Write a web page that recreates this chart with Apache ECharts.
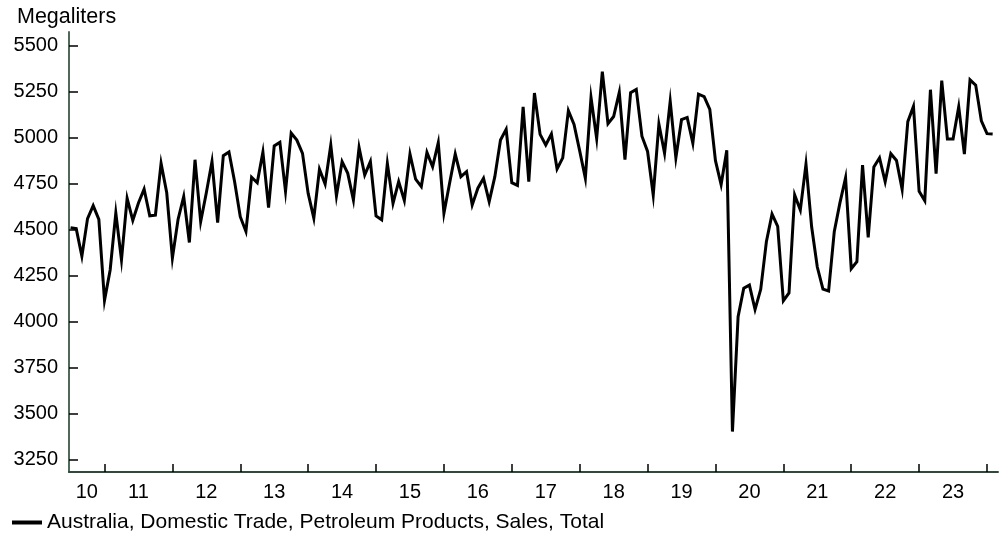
<!DOCTYPE html>
<html><head><meta charset="utf-8">
<script src="https://cdn.jsdelivr.net/npm/echarts@6/dist/echarts.min.js"></script>
<style>html,body{margin:0;padding:0;background:#fff}#c{width:1002px;height:533px}</style>
</head><body><div id="c"></div>
<script>
// Monthly series, first value = July 2010
const startYear = 2010;
const startMonth = 7;
const salesValues = [
  4510,4505,4355,4560,4630,4555,
  4115,4280,4590,4335,4670,4550,4645,4720,4575,4578,4860,4700,
  4345,4555,4680,4430,4880,4543,4700,4870,4538,4902,4922,4760,
  4570,4490,4785,4755,4922,4620,4955,4975,4708,5025,4987,4915,
  4697,4562,4828,4748,4960,4683,4870,4806,4661,4947,4797,4870,
  4574,4553,4860,4643,4761,4658,4911,4774,4734,4920,4842,4973,
  4589,4752,4911,4788,4815,4634,4725,4779,4652,4788,4987,5045,
  4755,4740,5168,4761,5243,5018,4960,5020,4830,4890,5147,5072,
  4928,4779,5219,4996,5359,5076,5115,5247,4880,5245,5263,5008,
  4925,4688,5074,4915,5198,4890,5098,5110,4970,5237,5223,5154,
  4875,4745,4931,3401,4026,4181,4198,4065,4175,4434,4584,4517,
  4112,4155,4688,4606,4856,4515,4296,4176,4166,4489,4645,4782,
  4287,4325,4851,4458,4840,4890,4760,4913,4876,4719,5087,5170,
  4708,4657,5261,4804,5310,4993,4993,5168,4911,5315,5286,5092,
  5022,5020
];
const yTickValues = [3250,3500,3750,4000,4250,4500,4750,5000,5250,5500];
const xTickYears = [2011,2012,2013,2014,2015,2016,2017,2018,2019,2020,2021,2022,2023,2024];
const xLabelPositions = [2010.74,2011.5,2012.5,2013.5,2014.5,2015.5,2016.5,2017.5,2018.5,2019.5,2020.5,2021.5,2022.5,2023.5];
const xLabelTexts = ['10','11','12','13','14','15','16','17','18','19','20','21','22','23'];
const seriesName = 'Australia, Domestic Trade, Petroleum Products, Sales, Total';
const unitLabel = 'Megaliters';

const seriesData = salesValues.map((v, i) => [startYear + (startMonth - 1 + i) / 12, v]);
const FONT = '"Liberation Sans", Arial, sans-serif';

const chart = echarts.init(document.getElementById('c'), null, {renderer: 'canvas'});
chart.setOption({
  animation: false,
  backgroundColor: '#ffffff',
  title: {
    text: unitLabel, left: 17, top: 6, padding: 0,
    textStyle: {fontFamily: FONT, fontSize: 21.5, fontWeight: 'normal', color: '#000'}
  },
  legend: {
    left: 12, top: 512, padding: 0,
    itemWidth: 30, itemHeight: 4,
    data: [{name: seriesName, icon: 'rect'}],
    textStyle: {fontFamily: FONT, fontSize: 21, color: '#000'}
  },
  grid: {left: 69, right: 4, top: 32, bottom: 61, outerBoundsMode: 'none', containLabel: false},
  xAxis: {
    type: 'value', min: 2010.477, max: 2024.162,
    axisLine: {show: true, lineStyle: {color: '#2f4a3b', width: 2}},
    axisTick: {show: true, inside: true, length: 8, customValues: xTickYears, lineStyle: {color: '#000', width: 1.5}},
    axisLabel: {
      customValues: xLabelPositions, margin: 10,
      fontFamily: FONT, fontSize: 20, color: '#000',
      formatter: (v) => xLabelTexts[xLabelPositions.findIndex(p => Math.abs(p - v) < 0.01)] || ''
    },
    splitLine: {show: false}
  },
  yAxis: {
    type: 'value', min: 3181, max: 5575,
    axisLine: {show: true, lineStyle: {color: '#4f6a5b', width: 2}},
    axisTick: {show: true, inside: true, length: 9, customValues: yTickValues, lineStyle: {color: '#000', width: 1.5}},
    axisLabel: {customValues: yTickValues, margin: 11, fontFamily: FONT, fontSize: 20, color: '#000',
      formatter: (v) => String(v)},
    splitLine: {show: false}
  },
  series: [{
    name: seriesName, type: 'line', data: seriesData,
    showSymbol: false, symbol: 'none',
    itemStyle: {color: '#000'},
    lineStyle: {color: '#000', width: 3, join: 'miter'}
  }]
});
</script>
</body></html>
